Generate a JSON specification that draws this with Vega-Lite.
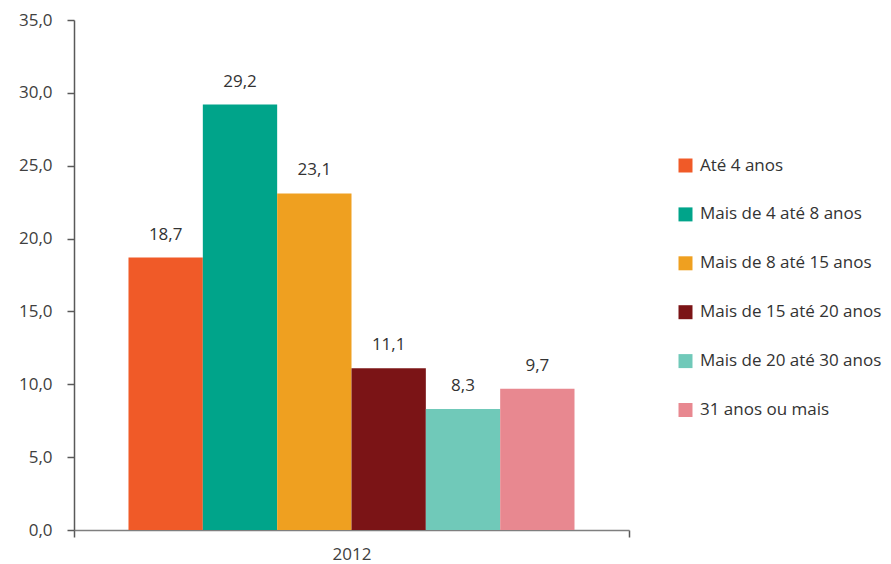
{
  "$schema": "https://vega.github.io/schema/vega-lite/v6.json",
  "width": 555,
  "height": 510,
  "autosize": {"type": "none"},
  "padding": {"left": 74, "top": 20, "right": 262, "bottom": 34},
  "background": "white",
  "config": {
    "view": {"stroke": null},
    "font": "Open Sans"
  },
  "data": {
    "values": [
      {"ano": "2012", "faixa": "Até 4 anos", "valor": 18.7},
      {"ano": "2012", "faixa": "Mais de 4 até 8 anos", "valor": 29.2},
      {"ano": "2012", "faixa": "Mais de 8 até 15 anos", "valor": 23.1},
      {"ano": "2012", "faixa": "Mais de 15 até 20 anos", "valor": 11.1},
      {"ano": "2012", "faixa": "Mais de 20 até 30 anos", "valor": 8.3},
      {"ano": "2012", "faixa": "31 anos ou mais", "valor": 9.7}
    ]
  },
  "encoding": {
    "x": {
      "field": "ano", "type": "nominal",
      "scale": {"paddingInner": 0, "paddingOuter": 0},
      "axis": {
        "title": null, "labelAngle": 0, "tickBand": "extent",
        "domainColor": "#7f7f7f", "domainWidth": 1.5,
        "tickColor": "#595959", "tickWidth": 1.5, "tickSize": 7,
        "labelFontSize": 17, "labelColor": "#404040", "labelPadding": 9,
        "labelFont": "Open Sans"
      }
    },
    "xOffset": {
      "field": "faixa", "type": "nominal",
      "sort": ["Até 4 anos", "Mais de 4 até 8 anos", "Mais de 8 até 15 anos", "Mais de 15 até 20 anos", "Mais de 20 até 30 anos", "31 anos ou mais"],
      "scale": {"paddingInner": 0, "paddingOuter": 0.733}
    },
    "y": {
      "field": "valor", "type": "quantitative",
      "scale": {"domain": [0, 35]},
      "axis": {
        "title": null, "grid": false, "values": [0, 5, 10, 15, 20, 25, 30, 35],
        "labelExpr": "replace(format(datum.value, '.1f'), '.', ',')",
        "domainColor": "#595959", "domainWidth": 1.5,
        "tickColor": "#595959", "tickWidth": 1.5, "tickSize": 7,
        "labelFontSize": 17, "labelColor": "#404040", "labelPadding": 15
      }
    }
  },
  "layer": [
    {
      "mark": {"type": "bar"},
      "encoding": {
        "color": {
          "field": "faixa", "type": "nominal",
          "sort": ["Até 4 anos", "Mais de 4 até 8 anos", "Mais de 8 até 15 anos", "Mais de 15 até 20 anos", "Mais de 20 até 30 anos", "31 anos ou mais"],
          "scale": {
            "domain": ["Até 4 anos", "Mais de 4 até 8 anos", "Mais de 8 até 15 anos", "Mais de 15 até 20 anos", "Mais de 20 até 30 anos", "31 anos ou mais"],
            "range": ["#F05A28", "#00A48A", "#EFA020", "#7B1416", "#70C9B9", "#E88890"]
          },
          "legend": {
            "title": null, "orient": "none", "legendX": 603, "legendY": 137,
            "symbolType": "square", "symbolSize": 196, "symbolStrokeWidth": 0,
            "labelFontSize": 17, "labelColor": "#333333", "rowPadding": 30.9,
            "labelOffset": 6, "labelLimit": 300
          }
        }
      }
    },
    {
      "mark": {"type": "text", "dy": -23, "fontSize": 17, "color": "#333333"},
      "encoding": {
        "text": {"field": "rotulo", "type": "nominal"}
      },
      "transform": [
        {"calculate": "replace(format(datum.valor, '.1f'), '.', ',')", "as": "rotulo"}
      ]
    }
  ]
}
